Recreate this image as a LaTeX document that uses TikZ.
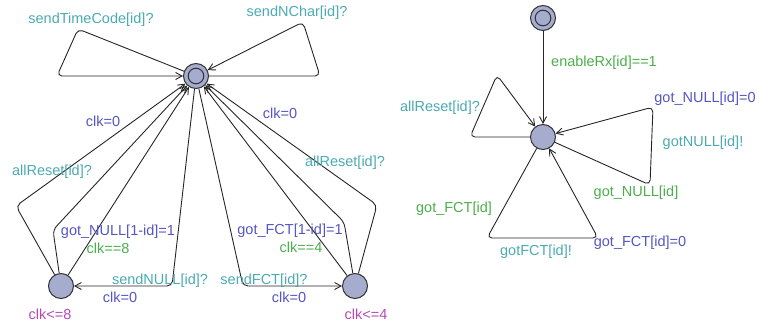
\documentclass[tikz,border=0pt]{standalone}
\usepackage{fontspec}
\setmainfont{Liberation Sans}
\usetikzlibrary{arrows.meta}

\definecolor{syncc}{RGB}{75,170,178}
\definecolor{updc}{RGB}{85,85,195}
\definecolor{grdc}{RGB}{75,175,75}
\definecolor{invc}{RGB}{180,75,180}
\definecolor{locfill}{RGB}{165,172,205}

\begin{document}
\begin{tikzpicture}[x=1pt,y=-1pt,
  loc/.style={circle,draw=black!80,line width=1pt,fill=locfill,minimum size=25pt,inner sep=0pt},
  initloc/.style={loc,path picture={\draw[black!80,line width=1pt] (path picture bounding box.center) circle (7.8pt);}},
  edge/.style={draw=black!85,line width=0.9pt,rounded corners=5pt,-{Straight Barb[length=6.5pt,width=7pt]}},
  lbl/.style={inner sep=0pt,font=\fontsize{14.5}{16}\selectfont},
  sync/.style={lbl,text=syncc},
  upd/.style={lbl,text=updc},
  grd/.style={lbl,text=grdc},
  inv/.style={lbl,text=invc}]
\useasboundingbox (0,0) rectangle (771,329);

% ---- transmitter automaton ----
\node[initloc] (C) at (196,76) {};
\node[loc] (L) at (61,286) {};
\node[loc] (R) at (355,286) {};

\coordinate (tc1) at (78,29);
\coordinate (tc2) at (57,76);
\coordinate (nc1) at (320,76);
\coordinate (nc2) at (303,22);
\coordinate (la) at (16,206);
\coordinate (lb) at (53,230);
\coordinate (ls) at (172,286);
\coordinate (ra) at (377,205);
\coordinate (rb) at (344,222);
\coordinate (rs) at (243,286);

\draw[edge] (C) -- (tc1) -- (tc2) -- (C);
\draw[edge] (C) -- (nc1) -- (nc2) -- (C);
\draw[edge] (L) -- (la) -- (C);
\draw[edge] (L) -- (lb) -- (C);
\draw[edge] (L) -- (C);
\draw[edge] (C) -- (ls) -- (L);
\draw[edge] (R) -- (ra) -- (C);
\draw[edge] (R) -- (rb) -- (C);
\draw[edge] (R) -- (C);
\draw[edge] (C) -- (rs) -- (R);

\node[sync] (sTC) at (91,20) {sendTimeCode[id]?};
\node[sync] (sNC) at (297,13) {sendNChar[id]?};
\node[upd]  (uL0) at (103,121) {clk=0};
\node[sync] (sLR) at (52,172) {allReset[id]?};
\node[upd]  (uR0) at (280,113) {clk=0};
\node[sync] (sRR) at (345,163) {allReset[id]?};
\node[upd]  (uGN) at (118,232) {got\_NULL[1-id]=1};
\node[grd]  (gL8) at (108,248) {clk==8};
\node[sync] (sSN) at (160,281) {sendNULL[id]?};
\node[upd]  (uSN) at (120,297) {clk=0};
\node[inv]  (iL)  at (50,314) {clk<=8};
\node[upd]  (uGF) at (290,231) {got\_FCT[1-id]=1};
\node[grd]  (gR4) at (301,247) {clk==4};
\node[sync] (sSF) at (264,281) {sendFCT[id]?};
\node[upd]  (uSF) at (289,297) {clk=0};
\node[inv]  (iR)  at (366,314) {clk<=4};

% ---- receiver automaton ----
\node[initloc] (I) at (543,18) {};
\node[loc] (M) at (543,137) {};

\coordinate (ar1) at (470,137);
\coordinate (ar2) at (497,75);
\coordinate (gn1) at (650,185);
\coordinate (gn2) at (653,107);
\coordinate (gf1) at (487,238);
\coordinate (gf2) at (598,238);

\draw[edge] (I) -- (M);
\draw[edge] (M) -- (ar1) -- (ar2) -- (M);
\draw[edge] (M) -- (gn1) -- (gn2) -- (M);
\draw[edge] (M) -- (gf1) -- (gf2) -- (M);

\node[grd]  (gEn) at (604,63) {enableRx[id]==1};
\node[sync] (sAR) at (440,108) {allReset[id]?};
\node[upd]  (uGN0) at (705,99) {got\_NULL[id]=0};
\node[sync] (sGN) at (703,143) {gotNULL[id]!};
\node[grd]  (gGN) at (636,193) {got\_NULL[id]};
\node[grd]  (gGF) at (454,209) {got\_FCT[id]};
\node[sync] (sGF) at (536,252) {gotFCT[id]!};
\node[upd]  (uGF0) at (640,243) {got\_FCT[id]=0};
\end{tikzpicture}
\end{document}
